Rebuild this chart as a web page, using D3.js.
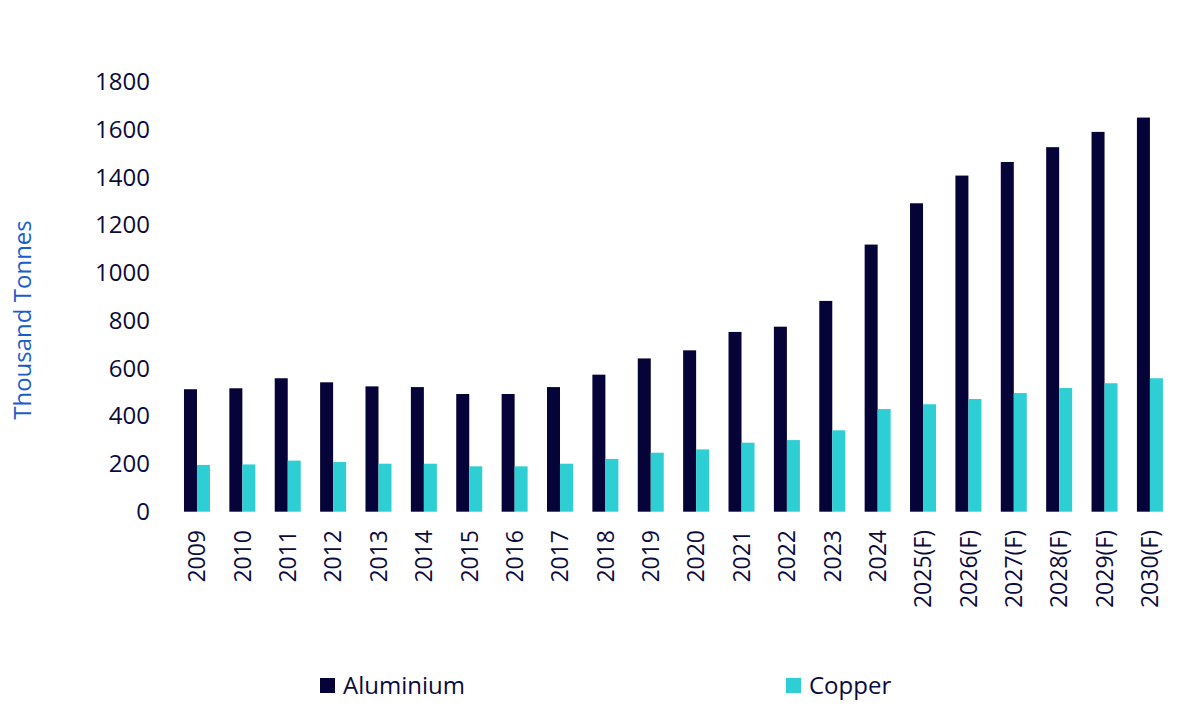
<!DOCTYPE html>
<html>
<head>
<meta charset="utf-8">
<script src="https://cdn.jsdelivr.net/npm/d3@7"></script>
<style>
  body { margin: 0; background: #fff; }
  svg { display: block; }
  svg text { font-family: "Open Sans", Lato, sans-serif; }
</style>
</head>
<body>
<svg class="chart" width="1200" height="710"></svg>
<script>
const years = ["2009","2010","2011","2012","2013","2014","2015","2016","2017","2018","2019",
    "2020","2021","2022","2023","2024","2025(F)","2026(F)","2027(F)","2028(F)","2029(F)","2030(F)"]
const aluminium = [513,517,559,542,525,522,493,493,522,574,642,676,753,775,883,1119,1292,1408,1465,1527,1591,1651]
const copper = [196,198,214,208,201,201,190,190,201,221,247,261,289,300,341,430,450,472,497,518,538,559]
const seriesNames = ["Aluminium","Copper"]
const yTicks = [0,200,400,600,800,1000,1200,1400,1600,1800]

const colors = { Aluminium: "#060338", Copper: "#2ecfd4" }
const textColor = "#0b0a3c"
const fontStack = "'Open Sans', Lato, sans-serif"

const svg = d3.select("svg.chart")

const rows = years.map((y, i) => ({ year: y, Aluminium: aluminium[i], Copper: copper[i] }))

const x0 = d3.scaleBand()
    .domain(years)
    .range([164.6, 1182.3])
    .padding(0.427)

const x1 = d3.scaleBand()
    .domain(seriesNames)
    .range([0, x0.bandwidth()])

const y = d3.scaleLinear()
    .domain([0, 1800])
    .range([511.7, 82])

// bars
svg.append("g")
    .selectAll("g")
    .data(rows)
    .join("g")
    .attr("transform", d => `translate(${x0(d.year)},0)`)
    .selectAll("rect")
    .data(d => seriesNames.map(k => ({ key: k, value: d[k] })))
    .join("rect")
    .attr("x", d => x1(d.key))
    .attr("width", x1.bandwidth())
    .attr("y", d => y(d.value))
    .attr("height", d => y(0) - y(d.value))
    .attr("fill", d => colors[d.key])

// y axis, labels only
const yAxis = svg.append("g")
    .attr("transform", "translate(150,0)")
    .call(d3.axisLeft(y).tickValues(yTicks).tickFormat(d3.format("d")).tickSize(0).tickPadding(0))
    .attr("font-family", fontStack)
    .attr("font-size", 24)
yAxis.select(".domain").remove()
yAxis.selectAll("text")
    .attr("fill", textColor)

// x axis, rotated labels
const xAxis = svg.append("g")
    .attr("transform", "translate(0,530)")
    .call(d3.axisBottom(x0).tickSize(0))
    .attr("font-family", fontStack)
    .attr("font-size", 23)
xAxis.select(".domain").remove()
xAxis.selectAll("text")
    .attr("x", 0)
    .attr("y", 0)
    .attr("dy", "0.36em")
    .attr("transform", "rotate(-90)")
    .attr("text-anchor", "end")
    .attr("fill", textColor)

// y title
svg.append("text")
    .attr("transform", "translate(31,320) rotate(-90)")
    .attr("text-anchor", "middle")
    .attr("font-size", 24)
    .attr("fill", "#1a5ccc")
    .text("Thousand Tonnes")

// legend
const legendPos = [{ key: "Aluminium", x: 320 }, { key: "Copper", x: 786 }]
const legend = svg.append("g")
    .selectAll("g")
    .data(legendPos)
    .join("g")
    .attr("transform", d => `translate(${d.x},678)`)
legend.append("rect")
    .attr("width", 15)
    .attr("height", 15)
    .attr("fill", d => colors[d.key])
legend.append("text")
    .attr("x", 23)
    .attr("y", 16)
    .attr("font-size", 24)
    .attr("fill", textColor)
    .text(d => d.key)
</script>
</body>
</html>
